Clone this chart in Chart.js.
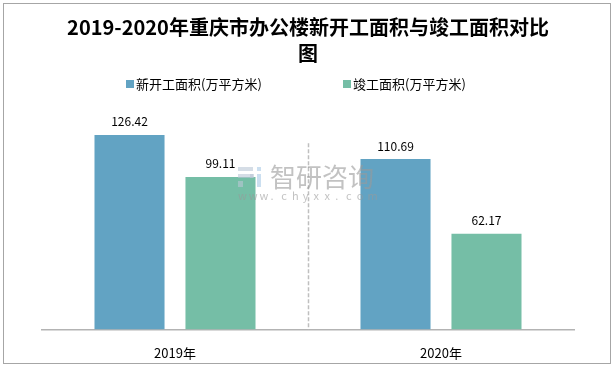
<!DOCTYPE html>
<html>
<head>
<meta charset="utf-8">
<script src="https://cdn.jsdelivr.net/npm/chart.js@4.4.0/dist/chart.umd.min.js"></script>
<style>
  html, body { margin: 0; padding: 0; background: #fff; }
  #wrap { width: 614px; height: 367px; position: relative; }
</style>
</head>
<body>
<div id="wrap"><canvas id="areaChart" width="614" height="367"></canvas></div>
<script>
const anos = ['2019年', '2020年'];
const novaObra = [126.42, 110.69];
const concluida = [99.11, 62.17];
const nomeSeries = ['新开工面积(万平方米)', '竣工面积(万平方米)'];
const coresSeries = ['#62a3c3', '#75bea6'];
const tituloLinhas = ['2019-2020年重庆市办公楼新开工面积与竣工面积对比', '图'];

const fonteCJK = '"Noto Sans CJK SC", "Noto Sans", sans-serif';

// moldura cinza em volta
const moldura = {
  id: 'moldura',
  beforeDraw(chart) {
    const c = chart.ctx;
    c.save();
    c.fillStyle = '#fff';
    c.fillRect(0, 0, chart.width, chart.height);
    c.strokeStyle = '#a6a6a6';
    c.lineWidth = 1;
    c.strokeRect(3.5, 3.5, chart.width - 7, chart.height - 7);
    c.restore();
  }
};

// linha tracejada entre as categorias
const separador = {
  id: 'separador',
  beforeDatasetsDraw(chart) {
    const x = chart.scales.x, y = chart.scales.y;
    const c = chart.ctx;
    const meio = (x.getPixelForValue(0) + x.getPixelForValue(1)) / 2;
    c.save();
    c.strokeStyle = '#bfbfbf';
    c.lineWidth = 1.5;
    c.setLineDash([4, 2]);
    c.beginPath();
    c.moveTo(Math.round(meio) + 0.5, y.getPixelForValue(121));
    c.lineTo(Math.round(meio) + 0.5, y.getPixelForValue(0));
    c.stroke();
    c.restore();
  }
};

// rotulos de valor e marca d'agua
const rotulos = {
  id: 'rotulos',
  afterDatasetsDraw(chart) {
    const c = chart.ctx;
    c.save();
    c.font = '12px ' + fonteCJK;
    c.fillStyle = '#000';
    c.textAlign = 'center';
    c.textBaseline = 'middle';
    chart.data.datasets.forEach((ds, i) => {
      chart.getDatasetMeta(i).data.forEach((bar, j) => {
        c.fillText(ds.data[j].toFixed(2), bar.x, bar.y - 13);
      });
    });

    // marca d'agua
    const cx = (chart.chartArea.left + chart.chartArea.right) / 2;
    c.globalAlpha = 0.6;
    c.fillStyle = '#999';
    c.font = '26px ' + fonteCJK;
    c.textAlign = 'left';
    c.fillText('智研咨询', cx - 38, 177);
    c.font = '11px ' + fonteCJK;
    const site = 'www.chyxx.com'.split('');
    site.forEach((ch, k) => c.fillText(ch, cx - 70 + k * 10.8, 196));
    c.fillStyle = '#b9c6d6';
    c.fillRect(cx - 70, 167, 15, 4);
    c.fillRect(cx - 70, 174, 15, 4);
    c.fillRect(cx - 70, 181, 5, 6);
    c.fillRect(cx - 58, 174, 4, 4);
    c.fillStyle = '#a9c9e6';
    c.fillRect(cx - 51, 167, 4, 4);
    c.fillRect(cx - 51, 174, 4, 13);
    c.restore();
  }
};

// legenda desenhada a mao (espacamento largo como no original)
const legenda = {
  id: 'legenda',
  afterDraw(chart) {
    const c = chart.ctx;
    c.save();
    c.font = '13px ' + fonteCJK;
    c.textBaseline = 'middle';
    const inicios = [126, 343];
    chart.data.datasets.forEach((ds, i) => {
      const x0 = inicios[i];
      c.fillStyle = ds.backgroundColor;
      c.fillRect(x0, 80, 8, 8);
      c.fillStyle = '#000';
      c.fillText(ds.label, x0 + 10, 84);
    });
    c.restore();
  }
};

new Chart(document.getElementById('areaChart'), {
  type: 'bar',
  data: {
    labels: anos,
    datasets: [
      { label: nomeSeries[0], data: novaObra, backgroundColor: coresSeries[0] },
      { label: nomeSeries[1], data: concluida, backgroundColor: coresSeries[1] }
    ]
  },
  options: {
    responsive: false,
    animation: false,
    devicePixelRatio: 1,
    categoryPercentage: 0.684,
    barPercentage: 0.77,
    layout: { padding: { top: 14, left: 42, right: 40, bottom: -10 } },
    plugins: {
      legend: { display: false },
      tooltip: { enabled: false },
      title: {
        display: true,
        text: tituloLinhas,
        color: '#000',
        font: { family: fonteCJK, size: 20, weight: 'bold', lineHeight: 1.3 },
        padding: { top: 0, bottom: 48 }
      }
    },
    scales: {
      x: {
        grid: { display: false, drawTicks: false },
        border: { display: true, color: '#b3b3b3', width: 1.5 },
        ticks: { color: '#000', padding: 16, font: { family: fonteCJK, size: 13 } }
      },
      y: {
        display: false,
        min: 0,
        max: 140
      }
    }
  },
  plugins: [moldura, separador, rotulos, legenda]
});
</script>
</body>
</html>
